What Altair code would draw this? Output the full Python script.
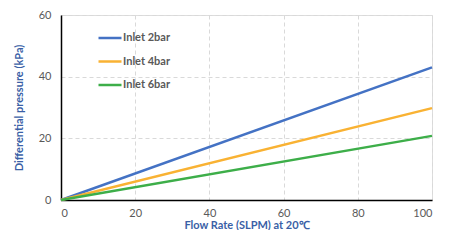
import altair as alt
import pandas as pd

flow = [0, 100]
inlet_2bar = [0, 43]
inlet_4bar = [0, 29.8]
inlet_6bar = [0, 20.8]
series = ["Inlet 2bar", "Inlet 4bar", "Inlet 6bar"]
colors = ["#4472C4", "#F9B233", "#3DAE49"]

rows = []
for name, vals in zip(series, [inlet_2bar, inlet_4bar, inlet_6bar]):
    for f, v in zip(flow, vals):
        rows.append({"flow": f, "dp": v, "series": name})
df = pd.DataFrame(rows)

title_color = "#3A5FA6"
label_color = "#595959"

chart = alt.Chart(df).mark_line(strokeWidth=2.5).encode(
    x=alt.X("flow:Q", scale=alt.Scale(domain=[0, 100], nice=False),
            axis=alt.Axis(values=[0, 20, 40, 60, 80, 100], title="Flow Rate (SLPM) at 20℃",
                          titleColor=title_color, titleFontWeight="bold", titleFontSize=11,
                          titlePadding=1,
                          labelColor=label_color, labelFontSize=11, labelPadding=7,
                          ticks=False, domainColor="#000000", domainWidth=1.5,
                          grid=True, gridDash=[4, 3], gridColor="#D9D9D9")),
    y=alt.Y("dp:Q", scale=alt.Scale(domain=[0, 60], nice=False),
            axis=alt.Axis(values=[0, 20, 40, 60], title="Differential pressure  (kPa)",
                          titleColor=title_color, titleFontWeight="bold", titleFontSize=11,
                          titlePadding=14,
                          labelColor=label_color, labelFontSize=11, labelPadding=10,
                          ticks=False, domainColor="#000000", domainWidth=1.5,
                          grid=True, gridDash=[4, 3], gridColor="#D9D9D9")),
    color=alt.Color("series:N", scale=alt.Scale(domain=series, range=colors),
                    legend=alt.Legend(title=None, orient="none", legendX=36, legendY=10,
                                      symbolType="stroke", symbolSize=529, symbolStrokeWidth=2.5,
                                      labelFontWeight="bold", labelColor=label_color,
                                      labelFontSize=11, labelOffset=0, rowPadding=5.5)),
).properties(
    width=371, height=185, autosize="none",
    padding={"left": 53, "top": 7, "right": 2, "bottom": 30}
).configure_view(
    stroke="#808080", strokeWidth=1.5
).configure(
    font="Lato"
)

chart.save("out.html", embed_options={"renderer": "svg", "actions": False})
